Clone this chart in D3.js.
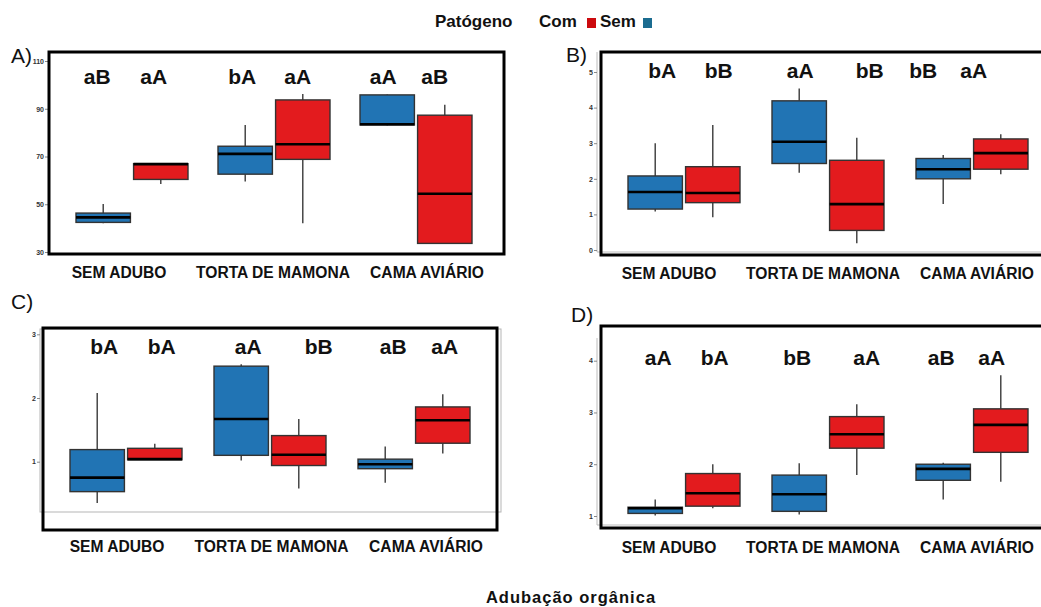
<!DOCTYPE html>
<html>
<head>
<meta charset="utf-8">
<script src="https://cdn.jsdelivr.net/npm/d3@7"></script>
<style>
  body { margin: 0; background: #fff; }
  text { font-family: "Liberation Sans", Arial, sans-serif; }
</style>
</head>
<body>
<div id="grafico"></div>
<script>
// categorias e grupos
const categorias = ["SEM ADUBO", "TORTA DE MAMONA", "CAMA AVIÁRIO"];
const patogeno = ["Sem", "Com"];

// cada linha: [min, q1, mediana, q3, max]
// ordem: Sem adubo (Sem, Com), Torta (Sem, Com), Cama (Sem, Com)
const boxesA = [
  [42.0, 42.4, 44.5, 46.3, 50.1],
  [58.5, 60.4, 66.8, 67.0, 67.0],
  [59.5, 62.6, 71.1, 74.3, 83.2],
  [42.0, 68.8, 75.1, 93.7, 96.2],
  [83.0, 83.2, 83.5, 95.8, 96.0],
  [33.6, 33.6, 54.4, 87.3, 91.7]
];
const boxesB = [
  [1.08, 1.15, 1.63, 2.08, 3.00],
  [0.92, 1.33, 1.60, 2.34, 3.51],
  [2.17, 2.43, 3.04, 4.19, 4.54],
  [0.19, 0.55, 1.29, 2.52, 3.15],
  [1.29, 2.00, 2.27, 2.57, 2.67],
  [2.13, 2.27, 2.72, 3.12, 3.25]
];
const boxesC = [
  [0.35, 0.53, 0.75, 1.19, 2.08],
  [1.03, 1.03, 1.04, 1.21, 1.28],
  [1.02, 1.10, 1.67, 2.50, 2.53],
  [0.58, 0.94, 1.11, 1.41, 1.67],
  [0.67, 0.89, 0.96, 1.04, 1.24],
  [1.13, 1.29, 1.65, 1.86, 2.06]
];
const boxesD = [
  [1.01, 1.05, 1.15, 1.17, 1.32],
  [1.15, 1.19, 1.44, 1.82, 2.00],
  [1.03, 1.09, 1.42, 1.79, 2.02],
  [1.79, 2.31, 2.58, 2.92, 3.16],
  [1.32, 1.69, 1.91, 2.00, 2.03],
  [1.66, 2.23, 2.76, 3.07, 3.72]
];

// letras das comparacoes
const letrasA = ["aB", "aA", "bA", "aA", "aA", "aB"];
const letrasB = ["bA", "bB", "aA", "bB", "bB", "aA"];
const letrasC = ["bA", "bA", "aA", "bB", "aB", "aA"];
const letrasD = ["aA", "bA", "bB", "aA", "aB", "aA"];

// ticks do eixo y
const ticksA = [30, 50, 70, 90, 110];
const ticksB = [0, 1, 2, 3, 4, 5];
const ticksC = [1, 2, 3];
const ticksD = [1, 2, 3, 4];

const cores = {"Sem": "#2174b4", "Com": "#e31b1e"};
const coresLegenda = {"Com": "#cc0a0e", "Sem": "#1b6c90"};

// layout de cada painel (posicoes em pixels)
const paineis = [
  {nome: "A)", nx: 11, ny: 63, boxes: boxesA, letras: letrasA, ticks: ticksA,
   yDom: [30, 110], yRange: [252, 61], xRange: [61, 487],
   frame: [49, 52, 504, 254], axisX: 48, eixo: "none",
   letraY: 84, letraDx: [-6, -7, -3, -5, -4, -10], labY: 278, labRange: [119, 427]},
  {nome: "B)", nx: 566, ny: 62, boxes: boxesB, letras: letrasB, ticks: ticksB,
   yDom: [0, 5], yRange: [250, 72], xRange: [612, 1044],
   frame: [601, 52, 1050, 255], axisX: 597, eixo: "linha", eixoTop: 52, eixoBottom: 252,
   letraY: 78, letraDx: [7, 6, 1, 13, -20, -27], labY: 279, labRange: [669, 977]},
  {nome: "C)", nx: 11, ny: 309, boxes: boxesC, letras: letrasC, ticks: ticksC,
   yDom: [1, 3], yRange: [461.7, 334.3], xRange: [54, 486],
   frame: [43, 328, 497, 530], axisX: 40, eixo: "rect", rect: [40, 329, 501, 512],
   letraY: 354, letraDx: [7, 7, 7, 20, 8, 2], labY: 552, labRange: [117, 426]},
  {nome: "D)", nx: 571, ny: 322, boxes: boxesD, letras: letrasD, ticks: ticksD,
   yDom: [1, 4], yRange: [516, 360.7], xRange: [612, 1044],
   frame: [601, 326, 1050, 528], axisX: 597, eixo: "linha", eixoTop: 338, eixoBottom: 525,
   letraY: 365, letraDx: [3, 2, -2, 10, -2, -9], labY: 553, labRange: [669, 977]}
];

const svg = d3.select("#grafico").append("svg")
  .attr("width", 1041)
  .attr("height", 607);

paineis.forEach(p => desenhaPainel(p));

function desenhaPainel(p) {
  const g = svg.append("g");

  const y = d3.scaleLinear().domain(p.yDom).range(p.yRange);
  const x = d3.scaleBand().domain(categorias).range(p.xRange);
  const bw = x.bandwidth();
  const xs = d3.scaleBand().domain(patogeno)
    .range([bw / 2 - 56, bw / 2 + 56])
    .paddingInner(0.055);

  // linhas cinzas do painel (restos do grafico original)
  if (p.eixo === "rect") {
    g.append("rect")
      .attr("x", p.rect[0]).attr("y", p.rect[1])
      .attr("width", p.rect[2] - p.rect[0]).attr("height", p.rect[3] - p.rect[1])
      .attr("fill", "none").attr("stroke", "#b5b5b5").attr("stroke-width", 1);
  } else if (p.eixo === "linha") {
    g.append("path")
      .attr("d", `M${p.axisX},${p.eixoTop}V${p.eixoBottom}H${p.frame[2]}`)
      .attr("fill", "none").attr("stroke", "#bdbdbd").attr("stroke-width", 1);
  }

  // eixo y
  const ay = g.append("g")
    .attr("transform", `translate(${p.axisX},0)`)
    .call(d3.axisLeft(y).tickValues(p.ticks).tickSize(3).tickPadding(1).tickFormat(d3.format("d")));
  ay.select(".domain").remove();
  ay.selectAll("line").attr("stroke", "#888");
  ay.selectAll("text")
    .style("font-size", "7px")
    .style("font-weight", "bold")
    .attr("fill", "#333");

  // dados com posicao
  const itens = p.boxes.map((b, i) => ({
    cat: categorias[Math.floor(i / 2)],
    grupo: patogeno[i % 2],
    s: b,
    letra: p.letras[i],
    dx: p.letraDx[i]
  }));
  itens.forEach(d => {
    d.x0 = x(d.cat) + xs(d.grupo);
    d.cx = d.x0 + xs.bandwidth() / 2;
  });

  // bigodes
  g.selectAll(".bigode-sup").data(itens).enter().append("line")
    .attr("x1", d => d.cx).attr("x2", d => d.cx)
    .attr("y1", d => y(d.s[4])).attr("y2", d => y(d.s[3]))
    .attr("stroke", "#3a3a3a").attr("stroke-width", 1.4);
  g.selectAll(".bigode-inf").data(itens).enter().append("line")
    .attr("x1", d => d.cx).attr("x2", d => d.cx)
    .attr("y1", d => y(d.s[1])).attr("y2", d => y(d.s[0]))
    .attr("stroke", "#3a3a3a").attr("stroke-width", 1.4);

  // caixas
  g.selectAll(".caixa").data(itens).enter().append("rect")
    .attr("x", d => d.x0)
    .attr("width", xs.bandwidth())
    .attr("y", d => y(d.s[3]))
    .attr("height", d => Math.max(y(d.s[1]) - y(d.s[3]), 1))
    .attr("fill", d => cores[d.grupo])
    .attr("stroke", "#333")
    .attr("stroke-width", 1.4);

  // medianas
  g.selectAll(".mediana").data(itens).enter().append("line")
    .attr("x1", d => d.x0).attr("x2", d => d.x0 + xs.bandwidth())
    .attr("y1", d => y(d.s[2])).attr("y2", d => y(d.s[2]))
    .attr("stroke", "#000").attr("stroke-width", 2.6);

  // letras
  g.selectAll(".letra").data(itens).enter().append("text")
    .attr("x", d => d.cx + d.dx)
    .attr("y", p.letraY)
    .attr("text-anchor", "middle")
    .style("font-size", "21px")
    .style("font-weight", "bold")
    .attr("fill", "#111")
    .text(d => d.letra);

  // moldura preta
  g.append("rect")
    .attr("x", p.frame[0]).attr("y", p.frame[1])
    .attr("width", p.frame[2] - p.frame[0]).attr("height", p.frame[3] - p.frame[1])
    .attr("fill", "none").attr("stroke", "#000").attr("stroke-width", 3);

  // rotulos das categorias
  const xl = d3.scalePoint().domain(categorias).range(p.labRange);
  g.selectAll(".rotulo").data(categorias).enter().append("text")
    .attr("x", d => xl(d))
    .attr("y", p.labY)
    .attr("text-anchor", "middle")
    .style("font-size", "15.6px")
    .style("font-weight", "bold")
    .attr("fill", "#111")
    .text(d => d);

  // letra do painel
  g.append("text")
    .attr("x", p.nx).attr("y", p.ny)
    .style("font-size", "21px")
    .attr("fill", "#111")
    .text(p.nome);
}

// legenda
const leg = svg.append("g");
leg.append("text")
  .attr("x", 435).attr("y", 27)
  .style("font-size", "17px").style("font-weight", "bold")
  .attr("fill", "#111")
  .text("Patógeno");

const itensLeg = [{nome: "Com", x: 539, q: 587}, {nome: "Sem", x: 600, q: 643}];
leg.selectAll(".lt").data(itensLeg).enter().append("text")
  .attr("x", d => d.x).attr("y", 27)
  .style("font-size", "17px").style("font-weight", "bold")
  .attr("fill", "#111")
  .text(d => d.nome);
leg.selectAll(".lq").data(itensLeg).enter().append("rect")
  .attr("x", d => d.q).attr("y", 18)
  .attr("width", 9).attr("height", 10)
  .attr("fill", d => coresLegenda[d.nome]);

// titulo do eixo x
svg.append("text")
  .attr("x", 571).attr("y", 603)
  .attr("text-anchor", "middle")
  .style("font-size", "16.5px").style("font-weight", "bold")
  .style("letter-spacing", "1px")
  .attr("fill", "#111")
  .text("Adubação orgânica");
</script>
</body>
</html>
